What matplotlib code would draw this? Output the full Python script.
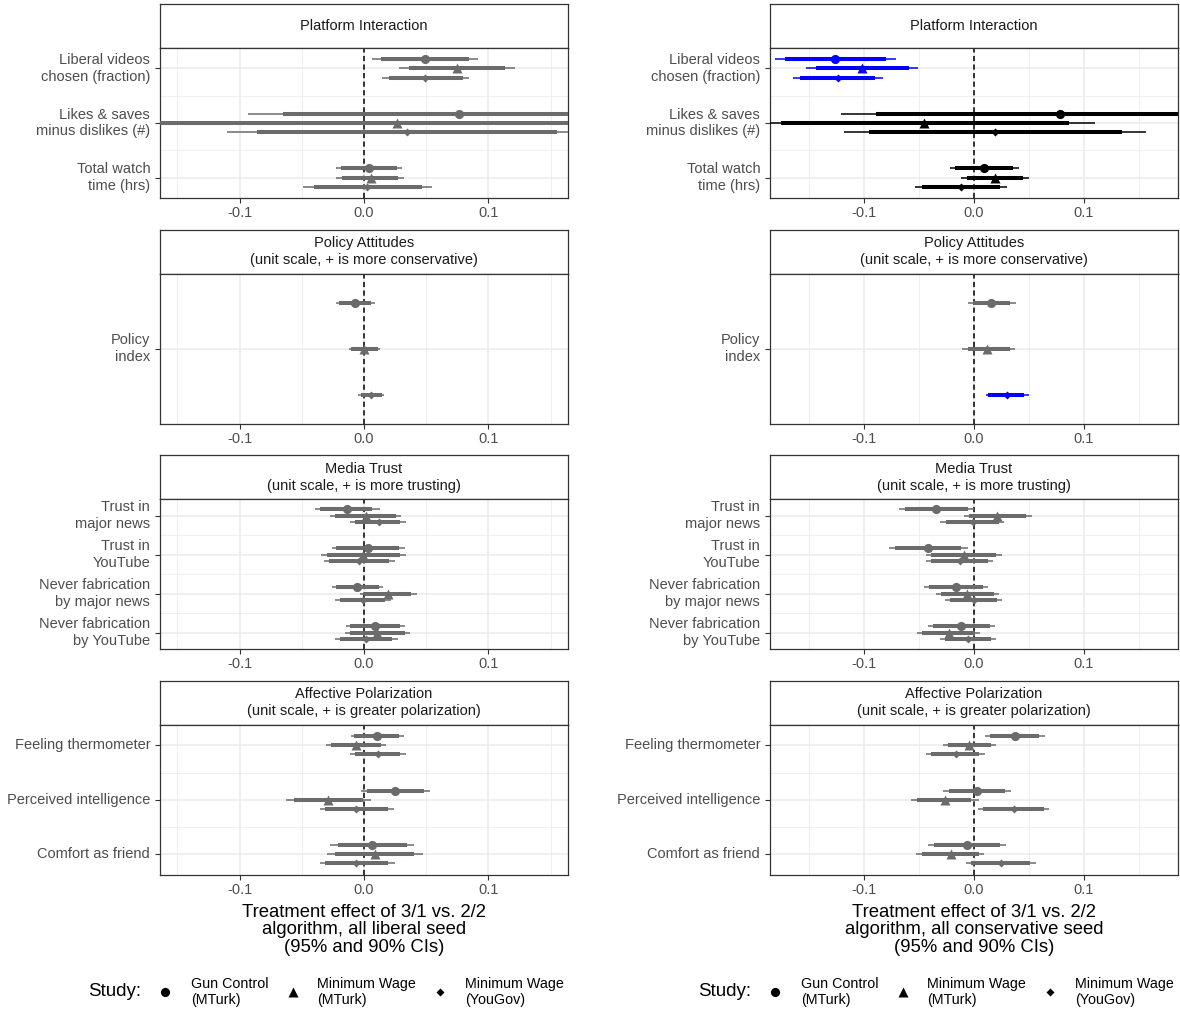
import matplotlib
matplotlib.use("Agg")
import matplotlib.pyplot as plt
from matplotlib.lines import Line2D

plt.rcParams["font.family"] = ["Liberation Sans", "DejaVu Sans"]

# Studies, drawn top to bottom within each outcome
studies = ["Gun Control\n(MTurk)", "Minimum Wage\n(MTurk)", "Minimum Wage\n(YouGov)"]
study_markers = ["o", "^", "D"]
marker_sizes = [6.6, 7.2, 3.6]

panel_titles = [
    "Platform Interaction",
    "Policy Attitudes\n(unit scale, + is more conservative)",
    "Media Trust\n(unit scale, + is more trusting)",
    "Affective Polarization\n(unit scale, + is greater polarization)",
]
platform_items = ["Liberal videos\nchosen (fraction)", "Likes & saves\nminus dislikes (#)",
                  "Total watch\ntime (hrs)"]
policy_items = ["Policy\nindex"]
trust_items = ["Trust in\nmajor news", "Trust in\nYouTube",
               "Never fabrication\nby major news", "Never fabrication\nby YouTube"]
polar_items = ["Feeling thermometer", "Perceived intelligence", "Comfort as friend"]

# rows: estimate, lo95, lo90, hi90, hi95 (item-major, study-minor)
lib_platform = [
    [0.0490, 0.0064, 0.0137, 0.0848, 0.0918],
    [0.0747, 0.0284, 0.0360, 0.1137, 0.1213],
    [0.0494, 0.0143, 0.0198, 0.0793, 0.0848],
    [0.0765, -0.0930, -0.0655, 0.2185, 0.2460],
    [0.0268, -0.2230, -0.1830, 0.2370, 0.2770],
    [0.0345, -0.1098, -0.0863, 0.1553, 0.1790],
    [0.0040, -0.0226, -0.0183, 0.0262, 0.0308],
    [0.0055, -0.0223, -0.0177, 0.0277, 0.0323],
    [0.0027, -0.0488, -0.0400, 0.0466, 0.0549],
]
lib_policy = [
    [-0.0076, -0.0226, -0.0204, 0.0055, 0.0085],
    [0.0003, -0.0119, -0.0107, 0.0116, 0.0131],
    [0.0055, -0.0046, -0.0027, 0.0146, 0.0162],
]
lib_trust = [
    [-0.0134, -0.0390, -0.0350, 0.0064, 0.0126],
    [0.0016, -0.0276, -0.0236, 0.0260, 0.0300],
    [0.0118, -0.0110, -0.0070, 0.0290, 0.0340],
    [0.0032, -0.0257, -0.0222, 0.0284, 0.0332],
    [-0.0008, -0.0345, -0.0297, 0.0286, 0.0335],
    [-0.0043, -0.0324, -0.0284, 0.0198, 0.0246],
    [-0.0054, -0.0257, -0.0222, 0.0118, 0.0153],
    [0.0193, -0.0035, 0.0003, 0.0380, 0.0426],
    [-0.0005, -0.0230, -0.0190, 0.0171, 0.0217],
    [0.0091, -0.0145, -0.0110, 0.0286, 0.0327],
    [0.0107, -0.0150, -0.0110, 0.0332, 0.0367],
    [0.0016, -0.0230, -0.0190, 0.0225, 0.0270],
]
lib_polar = [
    [0.0104, -0.0107, -0.0082, 0.0284, 0.0320],
    [-0.0067, -0.0305, -0.0265, 0.0137, 0.0177],
    [0.0110, -0.0113, -0.0076, 0.0293, 0.0338],
    [0.0250, -0.0021, 0.0024, 0.0482, 0.0527],
    [-0.0287, -0.0625, -0.0561, -0.0006, 0.0055],
    [-0.0061, -0.0357, -0.0311, 0.0192, 0.0244],
    [0.0067, -0.0271, -0.0213, 0.0345, 0.0405],
    [0.0085, -0.0296, -0.0235, 0.0405, 0.0473],
    [-0.0061, -0.0357, -0.0311, 0.0192, 0.0247],
]

con_platform = [
    [-0.1265, -0.1815, -0.1727, -0.0799, -0.0715],
    [-0.1019, -0.1531, -0.1440, -0.0597, -0.0513],
    [-0.1238, -0.1646, -0.1590, -0.0900, -0.0833],
    [0.0786, -0.1214, -0.0890, 0.2462, 0.2790],
    [-0.0452, -0.2010, -0.1760, 0.0863, 0.1106],
    [0.0196, -0.1187, -0.0961, 0.1352, 0.1572],
    [0.0094, -0.0219, -0.0169, 0.0357, 0.0408],
    [0.0189, -0.0115, -0.0064, 0.0449, 0.0499],
    [-0.0118, -0.0540, -0.0472, 0.0236, 0.0304],
]
con_policy = [
    [0.0155, -0.0057, -0.0013, 0.0330, 0.0381],
    [0.0121, -0.0108, -0.0057, 0.0330, 0.0371],
    [0.0304, 0.0111, 0.0128, 0.0459, 0.0506],
]
con_trust = [
    [-0.0343, -0.0684, -0.0632, -0.0055, 0.0000],
    [0.0213, -0.0091, -0.0046, 0.0477, 0.0532],
    [-0.0012, -0.0307, -0.0258, 0.0228, 0.0274],
    [-0.0416, -0.0778, -0.0723, -0.0116, -0.0055],
    [-0.0091, -0.0441, -0.0389, 0.0198, 0.0252],
    [-0.0131, -0.0435, -0.0389, 0.0128, 0.0173],
    [-0.0164, -0.0456, -0.0410, 0.0082, 0.0128],
    [-0.0061, -0.0350, -0.0304, 0.0182, 0.0228],
    [-0.0003, -0.0264, -0.0222, 0.0213, 0.0258],
    [-0.0116, -0.0419, -0.0374, 0.0143, 0.0195],
    [-0.0231, -0.0520, -0.0474, 0.0006, 0.0058],
    [-0.0055, -0.0307, -0.0261, 0.0158, 0.0204],
]
con_polar = [
    [0.0377, 0.0099, 0.0145, 0.0596, 0.0648],
    [-0.0045, -0.0286, -0.0241, 0.0151, 0.0199],
    [-0.0166, -0.0434, -0.0389, 0.0048, 0.0099],
    [0.0024, -0.0283, -0.0232, 0.0286, 0.0334],
    [-0.0262, -0.0570, -0.0520, -0.0024, 0.0044],
    [0.0361, 0.0033, 0.0084, 0.0636, 0.0687],
    [-0.0066, -0.0422, -0.0367, 0.0235, 0.0289],
    [-0.0214, -0.0530, -0.0470, 0.0044, 0.0094],
    [0.0244, -0.0075, -0.0027, 0.0515, 0.0566],
]

# colour code per estimate: g = grey, b = blue, k = black
lib_colors = [["g"] * 9, ["g"] * 3, ["g"] * 12, ["g"] * 9]
con_colors = [["b"] * 3 + ["k"] * 6, ["g", "g", "b"], ["g"] * 12, ["g"] * 9]

col_titles = [
    "Treatment effect of 3/1 vs. 2/2\nalgorithm, all liberal seed\n(95% and 90% CIs)",
    "Treatment effect of 3/1 vs. 2/2\nalgorithm, all conservative seed\n(95% and 90% CIs)",
]
col_xlim = [0.164, 0.186]

PALETTE = {"g": "#6b6b6b", "b": "#0000ff", "k": "#000000"}
W, H = 1180, 1010


def box(x0, y0, x1, y1):
    return [x0 / W, 1 - y1 / H, (x1 - x0) / W, (y1 - y0) / H]


def draw_panel(ax, items, rows, colors, lim):
    n = len(items)
    margin = {1: 0.272, 3: 0.376, 4: 0.423}[n]
    offsets = [-1 / 6, 0, 1 / 6]
    for k, (est, lo95, lo90, hi90, hi95) in enumerate(rows):
        item, s = divmod(k, 3)
        y = item + 1 + offsets[s]
        c = PALETTE[colors[k]]
        ax.plot([lo95, hi95], [y, y], color=c, lw=1.1, solid_capstyle="butt", zorder=3)
        ax.plot([lo90, hi90], [y, y], color=c, lw=2.9, solid_capstyle="butt", zorder=3)
        ax.plot([est], [y], marker=study_markers[s], ms=marker_sizes[s], color=c,
                mec="none", ls="none", zorder=4)
    ax.axvline(0, color="black", lw=1.1, ls=(0, (3.4, 2.2)), zorder=2)

    ax.set_xlim(-lim, lim)
    ax.set_ylim(n + margin, 1 - margin)
    ax.set_xticks([-0.1, 0.0, 0.1])
    ax.set_xticklabels(["-0.1", "0.0", "0.1"])
    ax.set_xticks([-0.15, -0.05, 0.05, 0.15], minor=True)
    ax.set_yticks(range(1, n + 1))
    ax.set_yticklabels(items, va="center", linespacing=1.25)
    ax.set_yticks([i + 0.5 for i in range(1, n)], minor=True)
    ax.grid(which="major", color="#ebebeb", lw=1.1)
    ax.grid(which="minor", color="#ebebeb", lw=0.55)
    ax.set_axisbelow(True)
    ax.tick_params(which="major", length=3.3, width=0.8, color="#333333",
                   labelcolor="#4d4d4d", labelsize=10.5)
    ax.tick_params(axis="x", pad=2.5)
    ax.tick_params(axis="y", pad=3.8)
    ax.tick_params(which="minor", length=0)
    for sp in ax.spines.values():
        sp.set_color("#333333")
        sp.set_linewidth(0.9)


fig = plt.figure(figsize=(W / 100, H / 100), dpi=100)

columns = [
    ([lib_platform, lib_policy, lib_trust, lib_polar], lib_colors),
    ([con_platform, con_policy, con_trust, con_polar], con_colors),
]
item_sets = [platform_items, policy_items, trust_items, polar_items]

for ci, (panels, colors) in enumerate(columns):
    x0 = 160 + 610 * ci
    for ri in range(4):
        top = 4 + 225.6 * ri
        strip = fig.add_axes(box(x0, top, x0 + 408, top + 44))
        strip.set_xticks([])
        strip.set_yticks([])
        for sp in strip.spines.values():
            sp.set_color("#333333")
            sp.set_linewidth(0.9)
        strip.text(0.5, 0.5, panel_titles[ri], ha="center", va="center",
                   fontsize=10.5, color="#1a1a1a", transform=strip.transAxes,
                   linespacing=1.25)
        ax = fig.add_axes(box(x0, top + 44, x0 + 408, top + 194))
        draw_panel(ax, item_sets[ri], panels[ri], colors[ri], col_xlim[ci])

    cx = x0 + 204
    fig.text(cx / W, 1 - 930 / H, col_titles[ci], ha="center", va="center",
             fontsize=13.3, linespacing=1.05)

    # legend row
    ly = 1 - 992 / H
    dx = 610 * ci
    fig.text((88 + dx) / W, ly, "Study:", ha="left", va="center", fontsize=13.5)
    for s, (mx, tx) in enumerate([(165, 191), (293, 317), (440, 465)]):
        fig.add_artist(Line2D([(mx + dx) / W], [ly], marker=study_markers[s],
                              ms=marker_sizes[s], color="black", mec="none", ls="none",
                              transform=fig.transFigure))
        fig.text((tx + dx) / W, ly, studies[s], ha="left", va="center",
                 fontsize=10.3, linespacing=1.25)

fig.savefig("out.png", dpi=100)
